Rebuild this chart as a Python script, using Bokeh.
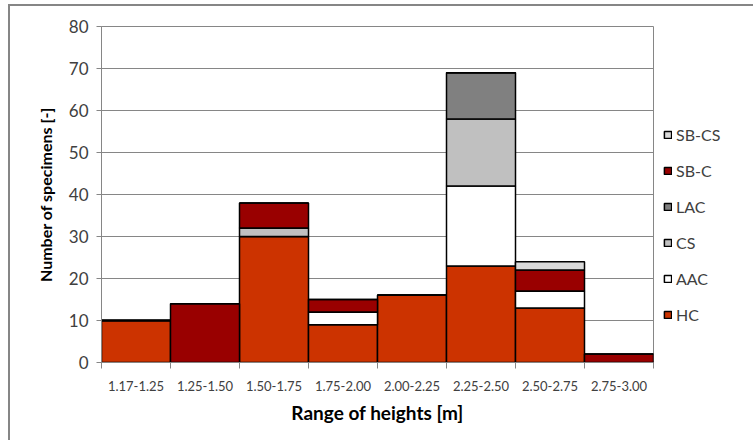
from bokeh.plotting import figure
from bokeh.models import ColumnDataSource, FixedTicker, Legend, LegendItem, Range1d
from bokeh.embed import file_html
from bokeh.resources import INLINE

categories = ["1.17-1.25", "1.25-1.50", "1.50-1.75", "1.75-2.00",
              "2.00-2.25", "2.25-2.50", "2.50-2.75", "2.75-3.00"]
HC    = [10, 0, 30, 9, 16, 23, 13, 0]
AAC   = [0, 0, 0, 3, 0, 19, 4, 0]
CS    = [0, 0, 2, 0, 0, 16, 0, 0]
LAC   = [0, 0, 0, 0, 0, 11, 0, 0]
SB_C  = [0, 14, 6, 3, 0, 0, 5, 2]
SB_CS = [0, 0, 0, 0, 0, 0, 2, 0]

series = ["HC", "AAC", "CS", "LAC", "SB-C", "SB-CS"]
colors = ["#CC3300", "#FFFFFF", "#C0C0C0", "#808080", "#990000", "#D9D9D9"]
y_ticks = [0, 10, 20, 30, 40, 50, 60, 70, 80]

xs = [i + 0.5 for i in range(len(categories))]
src = ColumnDataSource(dict(x=xs, HC=HC, AAC=AAC, CS=CS, LAC=LAC, SBC=SB_C, SBCS=SB_CS))
keys = ["HC", "AAC", "CS", "LAC", "SBC", "SBCS"]

FONT = "Lato"
GRAY = "#868686"

p = figure(frame_width=552, frame_height=336, output_backend="svg", toolbar_location=None,
           x_range=Range1d(0, len(categories)), y_range=Range1d(0, 80),
           min_border_left=91, min_border_right=90, min_border_top=20, min_border_bottom=78)
p.background_fill_color = "white"
p.border_fill_color = "white"
p.outline_line_color = GRAY
p.outline_line_width = 1

renderers = p.vbar_stack(keys, x="x", width=1.0, source=src, color=colors,
                         line_color="black", line_width=1.5)

# axes
p.xgrid.visible = False
p.ygrid.grid_line_color = GRAY
p.ygrid.grid_line_width = 1
p.yaxis.ticker = FixedTicker(ticks=y_ticks)
p.yaxis.axis_line_color = GRAY
p.yaxis.major_tick_line_color = GRAY
p.yaxis.major_tick_in = 0
p.yaxis.major_tick_out = 5
p.yaxis.minor_tick_line_color = None
p.yaxis.major_label_text_font = FONT
p.yaxis.major_label_text_font_size = "17px"
p.yaxis.major_label_text_color = "#404040"
p.yaxis.major_label_standoff = 8
p.yaxis.axis_label = "Number of specimens [-]"
p.yaxis.axis_label_text_font = FONT
p.yaxis.axis_label_text_font_style = "bold"
p.yaxis.axis_label_text_font_size = "16px"
p.yaxis.axis_label_text_color = "black"
p.yaxis.axis_label_standoff = 11

p.xaxis.ticker = FixedTicker(ticks=xs, minor_ticks=list(range(len(categories) + 1)))
p.xaxis.major_label_overrides = {x: c for x, c in zip(xs, categories)}
p.xaxis.axis_line_color = GRAY
p.xaxis.major_tick_line_color = None
p.xaxis.minor_tick_line_color = GRAY
p.xaxis.minor_tick_in = 0
p.xaxis.minor_tick_out = 6
p.xaxis.major_label_text_font = FONT
p.xaxis.major_label_text_font_size = "13px"
p.xaxis.major_label_text_color = "#404040"
p.xaxis.major_label_standoff = 12
p.xaxis.axis_label = "Range of heights [m]"
p.xaxis.axis_label_text_font = FONT
p.xaxis.axis_label_text_font_style = "bold"
p.xaxis.axis_label_text_font_size = "19px"
p.xaxis.axis_label_text_color = "black"
p.xaxis.axis_label_standoff = 7

items = [LegendItem(label=s, renderers=[r]) for s, r in zip(series, renderers)]
items = items[::-1]
legend = Legend(items=items, location=(10, 38), orientation="vertical",
                background_fill_alpha=0, border_line_color=None,
                label_text_font=FONT, label_text_font_size="16px", label_text_color="#404040",
                label_height=17, glyph_width=9, glyph_height=9, spacing=17,
                label_standoff=4, padding=0, margin=0)
p.add_layout(legend, "right")

p.styles = {"border-left": "2px solid #868686", "border-top": "2px solid #868686",
            "margin-left": "8px", "margin-top": "4px"}

open("out.html", "w").write(file_html(p, INLINE))
